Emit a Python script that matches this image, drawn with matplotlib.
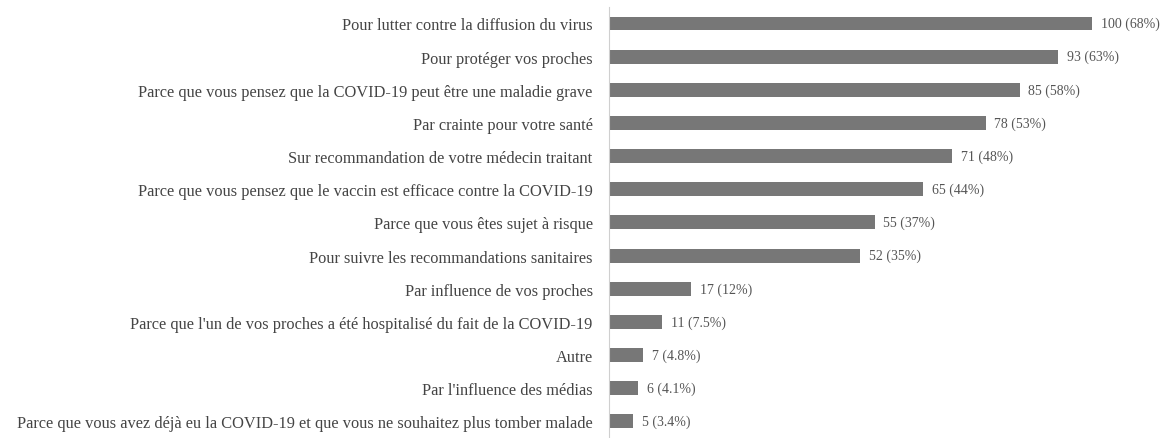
import matplotlib
matplotlib.use("Agg")
import matplotlib.pyplot as plt

# reasons for getting vaccinated (top to bottom)
reasons = [
    "Pour lutter contre la diffusion du virus",
    "Pour protéger vos proches",
    "Parce que vous pensez que la COVID-19 peut être une maladie grave",
    "Par crainte pour votre santé",
    "Sur recommandation de votre médecin traitant",
    "Parce que vous pensez que le vaccin est efficace contre la COVID-19",
    "Parce que vous êtes sujet à risque",
    "Pour suivre les recommandations sanitaires",
    "Par influence de vos proches",
    "Parce que l'un de vos proches a été hospitalisé du fait de la COVID-19",
    "Autre",
    "Par l'influence des médias",
    "Parce que vous avez déjà eu la COVID-19 et que vous ne souhaitez plus tomber malade",
]
counts = [100, 93, 85, 78, 71, 65, 55, 52, 17, 11, 7, 6, 5]
percents = ["68%", "63%", "58%", "53%", "48%", "44%", "37%", "35%", "12%", "7.5%", "4.8%", "4.1%", "3.4%"]

plt.rcParams["font.family"] = ["Liberation Serif", "DejaVu Serif"]

fig = plt.figure(figsize=(11.74, 4.39), dpi=100)
ax = fig.add_axes([0.519, 0.0, 0.481, 0.982])

ypos = list(range(len(reasons)))
ax.barh(ypos, counts, height=0.42, color="#777777")

for y, c, p in zip(ypos, counts, percents):
    ax.text(c + 1.8, y, f"{c} ({p})", va="center", ha="left", fontsize=10, color="#555555")

ax.set_yticks(ypos)
ax.set_yticklabels(reasons, fontsize=11.8, color="#444444")
ax.set_ylim(len(reasons) - 0.5, -0.5)
ax.set_xlim(0, 117)

ax.set_xticks([])
for side in ["top", "right", "bottom"]:
    ax.spines[side].set_visible(False)
ax.spines["left"].set_color("#cfcfcf")
ax.tick_params(axis="y", length=0, pad=12)

fig.savefig("out.png", dpi=100)
